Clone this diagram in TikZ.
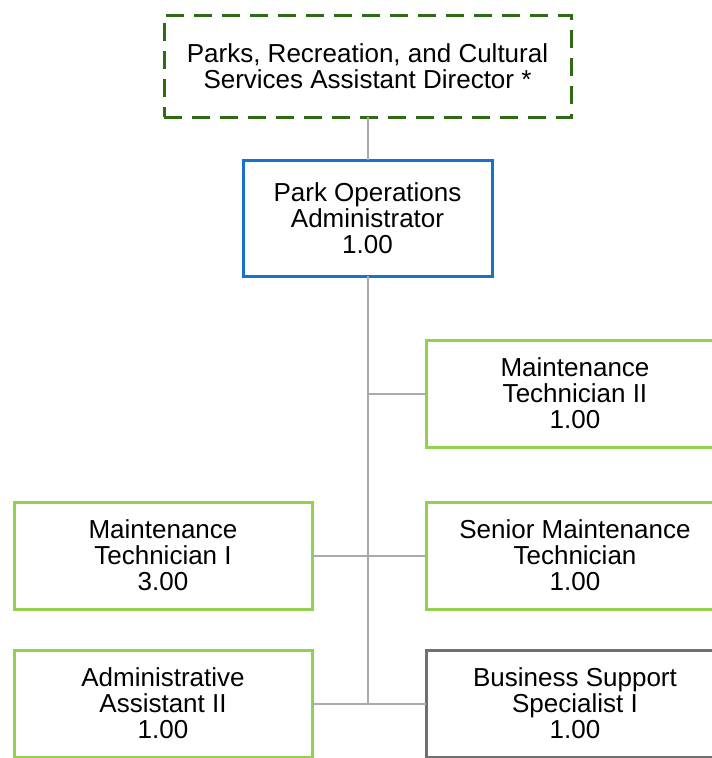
\documentclass[tikz,border=0pt]{standalone}
\usepackage{fontspec}
\setmainfont{Liberation Sans}
\usetikzlibrary{positioning}
\definecolor{dirgreen}{RGB}{46,107,20}
\definecolor{opsblue}{RGB}{27,112,204}
\definecolor{staffgreen}{RGB}{146,208,80}
\definecolor{staffgray}{RGB}{112,112,112}
\definecolor{linkgray}{RGB}{170,170,170}
\tikzstyle{line} = [draw=linkgray, line width=2pt]
\tikzstyle{block} = [draw, rectangle, line width=3pt, fill=white, text=black, align=center, inner sep=0pt, outer sep=0pt, font=\fontsize{26}{26}\selectfont]
\tikzstyle{dirbox} = [block, draw=dirgreen, dash pattern=on 18pt off 10pt, minimum width=407pt, minimum height=102pt]
\tikzstyle{opsbox} = [block, draw=opsblue, minimum width=249pt, minimum height=116pt]
\tikzstyle{staffbox} = [block, draw=staffgreen, minimum width=298pt, minimum height=107pt]
\tikzstyle{graybox} = [staffbox, draw=staffgray]

\begin{document}
\begin{tikzpicture}[x=1pt, y=-1pt]
        \useasboundingbox (0,0) rectangle (712,758);
        \node[dirbox] (director) at (367.5,66) {Parks, Recreation, and Cultural\\Services Assistant Director *};
        \node[opsbox, below=43pt of director] (ops) {Park Operations\\Administrator\\1.00};
        \node[staffbox, anchor=north west] (tech2) at (426,340) {Maintenance\\Technician II\\1.00};
        \node[staffbox, below=55pt of tech2] (senior) {Senior Maintenance\\Technician\\1.00};
        \node[staffbox, left=114pt of senior] (tech1) {Maintenance\\Technician I\\3.00};
        \node[staffbox, below=41pt of tech1] (assist) {Administrative\\Assistant II\\1.00};
        \node[graybox, below=41pt of senior] (business) {Business Support\\Specialist I\\1.00};
        \coordinate (trunk) at (ops.south |- assist);
        \path[line] (director) -- (ops);
        \path[line] (ops) -- (trunk);
        \path[line] (ops.south |- tech2) -- (tech2);
        \path[line] (tech1) -- (senior);
        \path[line] (assist) -- (business);
    \end{tikzpicture}
\end{document}
